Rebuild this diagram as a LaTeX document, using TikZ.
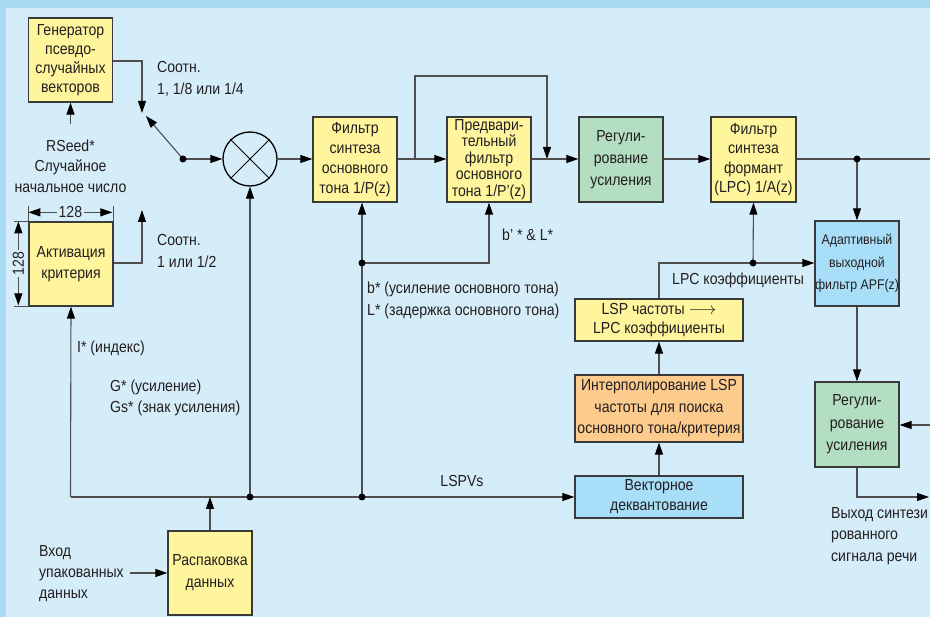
\documentclass[tikz,border=0pt]{standalone}
\usepackage{fontspec}
\setmainfont{Liberation Sans}[FakeStretch=0.88]
\usetikzlibrary{arrows.meta}

\definecolor{band}{HTML}{A6DBF3}
\definecolor{panel}{HTML}{D5ECF9}
\definecolor{ylw}{HTML}{FFF59D}
\definecolor{grn}{HTML}{B3DEC2}
\definecolor{blu}{HTML}{A8DEF7}
\definecolor{org}{HTML}{FDCB8D}
\definecolor{edge}{HTML}{3A3A3A}
\definecolor{wire}{HTML}{4F4F4F}
\definecolor{txt}{HTML}{231F20}

\begin{document}
\begin{tikzpicture}[x=1pt,y=-1pt,
  every node/.style={text=txt, font=\fontsize{16}{20}\selectfont},
  blk/.style={draw=edge, line width=1.3pt, inner sep=0pt, align=center,
    minimum width=84pt, minimum height=85pt},
  lbl/.style={inner sep=0pt, align=left, anchor=west},
  wirestyle/.style={draw=wire, line width=1.1pt},
  arr/.style={wirestyle, -{Triangle[length=12pt,width=8pt,color=black]}},
  dimarr/.style={wirestyle, {Triangle[length=12pt,width=8pt,color=black]}-{Triangle[length=12pt,width=8pt,color=black]}},
  junction/.style={circle, fill=black, inner sep=0pt, minimum size=7pt}
]
% background
\fill[band] (0,0) rectangle (930,617);
\fill[panel] (6,8) rectangle (930,617);
\useasboundingbox (0,0) rectangle (930,617);

% blocks
\node[blk, fill=ylw, minimum height=84pt, font=\fontsize{16}{19}\selectfont] (gen) at (70.5,60) {Генератор\\псевдо-\\случайных\\векторов};
\node[blk, fill=ylw, minimum height=84pt, font=\fontsize{16}{21}\selectfont] (act) at (71,264) {Активация\\критерия};
\node[blk, fill=ylw] (f1) at (355,159.5) {Фильтр\\синтеза\\основного\\тона 1/P(z)};
\node[blk, fill=ylw, font=\fontsize{16}{16.5}\selectfont] (pre) at (489,159.5) {Предвари-\\тельный\\фильтр\\основного\\тона 1/P’(z)};
\node[blk, fill=grn, font=\fontsize{16}{22}\selectfont] (reg1) at (621,159.5) {Регули-\\рование\\усиления};
\node[blk, fill=ylw, minimum width=85pt, font=\fontsize{16}{19.5}\selectfont] (form) at (753.5,159.5) {Фильтр\\синтеза\\формант\\(LPC) 1/A(z)};
\node[blk, fill=blu, font=\fontsize{14}{22.5}\selectfont] (apf) at (857,263.5) {Адаптивный\\выходной\\фильтр APF(z)};
\node[blk, fill=grn, font=\fontsize{16}{22.5}\selectfont] (reg2) at (857,424.5) {Регули-\\рование\\усиления};
\node[blk, fill=ylw, minimum width=168pt, minimum height=42pt, font=\fontsize{16}{19}\selectfont] (lsp) at (659,320) {LSP частоты $\longrightarrow$\\LPC коэффициенты};
\node[blk, fill=org, minimum width=168pt, minimum height=67pt, font=\fontsize{16}{21.5}\selectfont] (interp) at (659,408.5) {Интерполирование LSP\\частоты для поиска\\основного тона/критерия};
\node[blk, fill=blu, minimum width=168pt, minimum height=42pt] (vq) at (659,497) {Векторное\\деквантование};
\node[blk, fill=ylw, minimum height=84pt, font=\fontsize{16}{22}\selectfont] (unp) at (210,573) {Распаковка\\данных};

% multiplier
\node[circle, draw=black, line width=1.3pt, minimum size=54pt, inner sep=0pt] (mult) at (250,159) {};
\draw[black, line width=1pt] (mult.north west) -- (mult.south east) (mult.north east) -- (mult.south west);

% labels
\node[lbl, font=\fontsize{16}{22}\selectfont] (ratioA) at (157,79) {Соотн.\\1, 1/8 или 1/4};
\node[inner sep=0pt, align=center, font=\fontsize{16}{20.5}\selectfont] (seed) at (70.5,166) {RSeed*\\Случайное\\начальное число};
\node[lbl, font=\fontsize{16}{22}\selectfont] (ratioB) at (157,251) {Соотн.\\1 или 1/2};
\node[lbl] (idx) at (77,348) {I* (индекс)};
\node[lbl, font=\fontsize{16}{21}\selectfont] (gain) at (110,398) {G* (усиление)\\Gs* (знак усиления)};
\node[lbl] (bl) at (502,235) {b’ * \& L*};
\node[lbl, font=\fontsize{16}{22}\selectfont] (bL) at (367,300) {b* (усиление основного тона)\\L* (задержка основного тона)};
\node[lbl] (lpc) at (672,280) {LPC коэффициенты};
\node[inner sep=0pt] (lspv) at (462,481) {LSPVs};
\node[lbl, font=\fontsize{16}{21.5}\selectfont] (outlbl) at (831,536) {Выход синтези\\рованного\\сигнала речи};
\node[lbl, font=\fontsize{16}{21}\selectfont] (inlbl) at (39,574) {Вход\\упакованных\\данных};

% named points
\coordinate (sw) at (183,159);
\coordinate (swtip) at (146,116);
\coordinate (genout) at (142,113);
\coordinate (actout) at (142,210);
\coordinate (seedtop) at (70.5,124);
\coordinate (busL) at (70.5,497);
\coordinate (bus1) at (210,497);
\coordinate (bus2) at (250,497);
\coordinate (bus3) at (362,497);
\coordinate (pitch) at (362,263);
\coordinate (fork) at (415,159);
\coordinate (join) at (547,159);
\coordinate (tapF) at (857,159);
\coordinate (outR) at (930,159);
\coordinate (gainR) at (930,425);
\coordinate (speech) at (929,497);
\coordinate (tapL) at (753,263);
\coordinate (inT) at (130,573);

% generator and switch
\draw[arr] (gen.east |- 0,61) -| (genout);
\draw[arr] (sw) -- (swtip);
\draw[arr] (sw) -- (mult.west);
\draw[arr] (seedtop) -- (gen.south);
\draw[arr] (act.east |- 0,263) -| (actout);

% dimension marks of the activation block
\draw[wirestyle, line width=0.9pt] (act.north west) -- ++(0,-15) (act.north east) -- ++(0,-15);
\draw[wirestyle, line width=0.9pt] (act.north west) -- ++(-14,0) (act.south west) -- ++(-14,0);
\draw[dimarr] (act.north west) ++(0,-9) -- ++(84,0)
  node[midway, fill=panel, inner sep=1.5pt] {128};
\draw[dimarr] (act.north west) ++(-10,0) -- ++(0,84)
  node[midway, fill=panel, inner sep=1.5pt, rotate=90] {128};

% main chain
\draw[arr] (mult.east) -- (f1.west |- mult.east);
\draw[arr] (f1.east |- mult.east) -- (pre.west |- mult.east);
\draw[arr] (fork) -- (fork |- 0,76) -| (join);
\draw[arr] (pre.east |- mult.east) -- (reg1.west |- mult.east);
\draw[arr] (reg1.east |- mult.east) -- (form.west |- mult.east);
\draw[wirestyle] (form.east |- mult.east) -- (outR);
\draw[arr] (tapF) -- (apf.north);
\draw[arr] (apf.south) -- (reg2.north);
\draw[arr] (gainR) -- (reg2.east |- gainR);
\draw[arr] (reg2.south) |- (speech);

% parameter bus
\draw[arr] (busL) -- (vq.west);
\draw[arr] (busL) -- (act.south);
\draw[arr] (bus2) -- (mult.south);
\draw[arr] (bus3) -- (f1.south -| bus3);
\draw[arr] (pitch) -| (pre.south);
\draw[arr] (unp.north) -- (bus1);
\draw[arr] (inT) -- (unp.west);

% LSP path
\draw[arr] (vq.north) -- (interp.south);
\draw[arr] (interp.north) -- (lsp.south);
\draw[arr] (lsp.north) |- (apf.west |- tapL);
\draw[arr] (tapL) -- (form.south);

% junction dots
\foreach \p in {sw, bus2, bus3, pitch, tapF, tapL}
  \node[junction] at (\p) {};
\end{tikzpicture}
\end{document}
